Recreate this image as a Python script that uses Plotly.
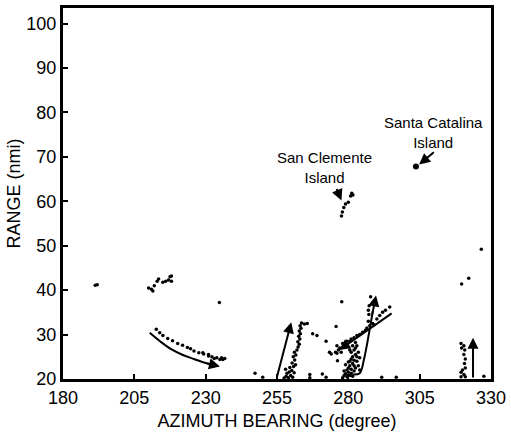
import plotly.graph_objects as go

# ---------------- data (azimuth deg, range nmi) ----------------
iso_x = [191.3, 192.0, 234.8, 247.3, 250.0, 266.5, 266.5, 270.9, 272.2, 267.5, 269.0, 272.2,
         275.7, 277.7, 273.4, 276.2, 274.0, 291.7, 296.8, 326.6, 319.7, 322.2, 327.5]
iso_y = [41.1, 41.2, 37.2, 21.3, 20.4, 20.3, 21.0, 21.1, 20.4, 30.2, 29.8, 28.5,
         31.8, 37.4, 26.0, 24.1, 25.6, 20.4, 20.4, 49.2, 41.4, 42.7, 20.6]

c40_x = [210.0, 211.0, 211.5, 212.0, 213.0, 213.5, 215.0, 216.0, 217.0, 217.5, 218.0, 218.0]
c40_y = [40.5, 40.2, 39.8, 41.0, 42.0, 42.5, 41.8, 42.0, 42.3, 43.0, 43.2, 42.0]

curve_x = [212.7, 213.9, 215.0, 216.7, 218.4, 220.2, 221.9, 223.6, 224.7, 225.9, 227.6, 229.3,
           231.0, 232.2, 233.9, 235.6, 236.7, 229.0, 231.0, 233.0, 235.0, 236.0]
curve_y = [31.2, 30.4, 29.8, 29.1, 28.6, 28.0, 27.6, 27.1, 26.8, 26.3, 25.9, 25.6,
           25.2, 25.0, 24.8, 24.8, 24.6, 25.9, 25.5, 24.6, 24.4, 24.4]

col260_x = [257.5, 258.2, 259.0, 259.8, 260.5, 258.5, 259.3, 260.2, 261.0, 258.0, 259.5, 260.8,
            261.5, 260.3, 261.2, 260.7, 261.6, 261.1, 262.0, 262.4, 262.8, 262.3, 263.0, 262.6,
            263.2, 262.8, 263.4, 263.1, 263.6, 264.6, 265.6]
col260_y = [20.2, 20.6, 20.3, 20.8, 20.4, 21.3, 21.6, 21.9, 21.4, 22.2, 22.6, 22.8,
            23.2, 23.6, 24.3, 25.0, 25.4, 26.0, 26.5, 27.2, 27.8, 28.4, 29.0, 29.6,
            30.2, 30.8, 31.4, 32.0, 32.6, 32.4, 32.5]

col280_x = [278.0, 278.5, 279.0, 279.5, 280.0, 280.5, 281.0, 281.5, 282.0, 279.5, 280.0, 280.5,
            281.0, 281.5, 282.0, 282.5, 283.0, 281.0, 281.5, 282.0, 282.5, 283.0, 283.5, 282.0,
            282.5, 283.0, 281.0, 280.5, 280.0, 283.5, 284.0, 284.0, 279.0, 278.5, 280.5, 281.5, 282.5]
col280_y = [20.3, 20.8, 21.2, 20.5, 21.5, 20.8, 21.3, 20.6, 21.8, 22.0, 22.5, 23.0,
            22.2, 23.5, 23.0, 22.5, 24.0, 24.5, 25.0, 24.2, 25.5, 25.0, 26.0, 26.5,
            27.0, 27.5, 26.0, 24.0, 23.8, 23.0, 24.8, 22.0, 23.2, 21.8, 26.5, 27.5, 28.2]

diag_x = [276.0, 277.0, 278.0, 279.0, 279.5, 280.5, 281.0, 282.0, 283.0, 284.0, 285.0, 286.0,
          286.5, 287.5, 288.5, 289.0, 290.0, 291.0, 292.0, 293.0, 294.5, 275.5, 276.5, 277.5,
          276.0, 287.0, 287.2, 287.0, 287.3, 287.8]
diag_y = [27.5, 27.0, 28.0, 27.5, 28.5, 28.5, 29.0, 29.3, 29.8, 30.0, 30.5, 31.0,
          31.5, 32.0, 32.5, 32.2, 33.5, 34.3, 35.0, 35.5, 36.2, 26.0, 26.5, 26.0,
          25.8, 33.0, 34.5, 35.5, 36.5, 38.5]

clem_x = [277.6, 277.9, 278.4, 279.0, 280.0, 280.8, 281.2, 281.6]
clem_y = [56.7, 57.6, 58.6, 59.4, 59.8, 61.2, 61.8, 61.4]

col320_x = [319.5, 320.5, 319.7, 320.8, 320.5, 321.0, 320.7, 321.0, 320.0, 319.5, 320.5, 319.5, 321.0]
col320_y = [28.0, 27.5, 27.0, 26.5, 25.5, 24.5, 23.5, 22.5, 22.0, 21.5, 21.0, 20.5, 20.5]

catalina_x = [303.7]
catalina_y = [67.8]

# curved track lines (data coords)
trackA_x = [210.4, 214.0, 217.9, 222.0, 225.9, 230.0, 232.0]
trackA_y = [30.4, 28.5, 26.7, 25.4, 24.5, 23.6, 23.3]
trackC_x = [281.5, 284.0, 285.5, 286.6, 287.7, 288.6]
trackC_y = [21.0, 21.3, 24.5, 28.0, 32.0, 35.3]

# arrows: (tail_x, tail_y, head_x, head_y)
arrows = [
    (230.0, 23.6, 235.0, 22.8),
    (254.8, 20.0, 260.0, 32.8),
    (295.7, 35.0, 276.8, 26.5),
    (288.3, 34.3, 289.7, 38.8),
    (323.7, 20.0, 323.7, 29.3),
    (275.7, 63.1, 277.6, 60.2),
    (310.5, 71.3, 304.8, 68.3),
]

labels = [
    (271.7, 67.6, "San Clemente<br>Island"),
    (309.7, 75.4, "Santa Catalina<br>Island"),
]

x_ticks = [180, 205, 230, 255, 280, 305, 330]
y_ticks = [20, 30, 40, 50, 60, 70, 80, 90, 100]

# ---------------- figure ----------------
fig = go.Figure()

all_x = iso_x + c40_x + curve_x + col260_x + col280_x + diag_x + clem_x + col320_x
all_y = iso_y + c40_y + curve_y + col260_y + col280_y + diag_y + clem_y + col320_y

fig.add_trace(go.Scatter(x=all_x, y=all_y, mode="markers",
                         marker=dict(size=3.5, color="black"), showlegend=False))
fig.add_trace(go.Scatter(x=catalina_x, y=catalina_y, mode="markers",
                         marker=dict(size=6, color="black"), showlegend=False))
for tx, ty in [(trackA_x, trackA_y), (trackC_x, trackC_y)]:
    fig.add_trace(go.Scatter(x=tx, y=ty, mode="lines",
                             line=dict(color="black", width=2, shape="spline"),
                             showlegend=False))

for (ax, ay, hx, hy) in arrows:
    fig.add_annotation(x=hx, y=hy, ax=ax, ay=ay, xref="x", yref="y",
                       axref="x", ayref="y", showarrow=True, arrowhead=2,
                       arrowsize=1.1, arrowwidth=2, arrowcolor="black", text="")

for (lx, ly, t) in labels:
    fig.add_annotation(x=lx, y=ly, xref="x", yref="y", text=t, showarrow=False,
                       font=dict(size=15, color="black", family="Liberation Sans"),
                       align="center")

fig.update_xaxes(range=[180, 330], tickvals=x_ticks, ticks="inside", ticklen=5,
                 tickwidth=1.5, tickcolor="black", showgrid=False, zeroline=False,
                 showline=True, linewidth=3, linecolor="black", mirror=True,
                 ticklabeloverflow="allow",
                 tickfont=dict(size=18, color="black"),
                 title=dict(text="AZIMUTH BEARING (degree)", font=dict(size=18, color="black"),
                            standoff=8))
fig.update_yaxes(range=[20, 103.5], tickvals=y_ticks, ticks="inside", ticklen=5,
                 tickwidth=1.5, tickcolor="black", showgrid=False, zeroline=False,
                 showline=True, linewidth=3, linecolor="black", mirror=True,
                 tickfont=dict(size=18, color="black"),
                 title=dict(text="RANGE (nmi)", font=dict(size=18, color="black"),
                            standoff=2))

fig.update_layout(width=511, height=433, margin=dict(l=63, r=11, t=5, b=53),
                  paper_bgcolor="white", plot_bgcolor="white",
                  font=dict(family="Liberation Sans", color="black"))

fig.write_html("out.html")
